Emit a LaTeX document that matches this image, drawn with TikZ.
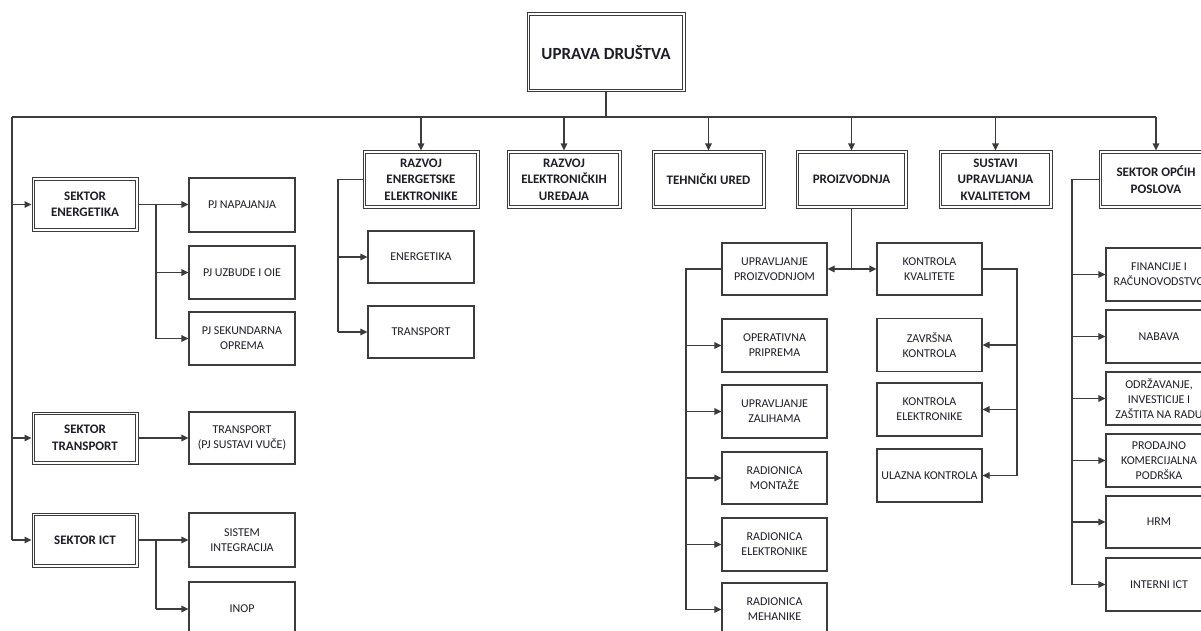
\documentclass[tikz,border=0pt]{standalone}
\usepackage{fontspec}
\setmainfont{Carlito}
\usetikzlibrary{arrows.meta}
\definecolor{lnc}{HTML}{3C3C3C}
\definecolor{txc}{HTML}{1E1E2A}
\tikzset{
  box/.style={draw=lnc, line width=1.1pt, fill=white, text=txc, font=\fontsize{12}{15}\selectfont, align=center, inner sep=0pt, minimum width=106pt, minimum height=53pt},
  dbox/.style={draw=lnc, line width=1pt, fill=white, text=txc, font=\fontsize{13}{16.5}\selectfont\bfseries, align=center, inner sep=0pt},
  inner/.style={draw=lnc, line width=1pt},
  arr/.style={draw=lnc, line width=1.1pt, -{Triangle[length=7pt,width=6.5pt]}},
  conn/.style={draw=lnc, line width=1.1pt},
}
\begin{document}
\begin{tikzpicture}[x=1pt,y=-1pt]
\useasboundingbox (0,0) rectangle (1201,631);
\fill[white] (0,0) rectangle (1201,631);
\clip (0,0) rectangle (1201,631);
% top
\node[dbox, font=\fontsize{17}{20}\selectfont\bfseries, minimum width=158pt, minimum height=79pt] (uprava) at (606,52.5) {UPRAVA DRUŠTVA};
% row 1
\node[dbox, minimum width=116pt, minimum height=57pt] (razee) at (421,179.5) {RAZVOJ\\ENERGETSKE\\ELEKTRONIKE};
\node[dbox, minimum width=114pt, minimum height=57pt] (razeu) at (564,179.5) {RAZVOJ\\ELEKTRONIČKIH\\UREĐAJA};
\node[dbox, minimum width=113pt, minimum height=57pt] (teh) at (708.5,179.5) {TEHNIČKI URED};
\node[dbox, minimum width=111pt, minimum height=57pt] (proiz) at (851.5,179.5) {PROIZVODNJA};
\node[dbox, minimum width=113pt, minimum height=57pt] (sust) at (995.5,179.5) {SUSTAVI\\UPRAVLJANJA\\KVALITETOM};
\node[dbox, minimum width=114pt, minimum height=57pt] (opci) at (1156,179.5) {SEKTOR OPĆIH\\POSLOVA};
% sectors
\node[dbox, minimum width=106pt, minimum height=53pt] (energ) at (85,204.5) {SEKTOR\\ENERGETIKA};
\node[dbox, minimum width=106pt, minimum height=52pt] (transp) at (85,438) {SEKTOR\\TRANSPORT};
\node[dbox, minimum width=106pt, minimum height=54pt] (ict) at (85,540) {SEKTOR ICT};
% inner frames of the double boxes
\foreach \n in {uprava,razee,razeu,teh,proiz,sust,opci,energ,transp,ict}
  \draw[inner] ([shift={(3.3,3.3)}]\n.north west) rectangle ([shift={(-3.3,-3.3)}]\n.south east);
% sector children
\node[box, minimum height=54pt] (napaj) at (242,205) {PJ NAPAJANJA};
\node[box] (uzb) at (242,272.5) {PJ UZBUDE I OIE};
\node[box] (sek) at (242,338.5) {PJ SEKUNDARNA\\OPREMA};
\node[box, minimum height=52pt] (trpj) at (242,438) {TRANSPORT\\(PJ SUSTAVI VUČE)};
\node[box, minimum height=54pt] (sistem) at (242,540) {SISTEM\\INTEGRACIJA};
\node[box, minimum height=54pt] (inop) at (242,609) {INOP};
% razvoj EE children
\node[box, minimum height=52pt] (energetika) at (421,257) {ENERGETIKA};
\node[box, minimum height=52pt] (transport) at (421,332) {TRANSPORT};
% proizvodnja
\node[box, minimum width=105pt, minimum height=52pt] (uprpro) at (774.5,269) {UPRAVLJANJE\\PROIZVODNJOM};
\node[box, minimum width=105pt, minimum height=52pt] (kk) at (929.5,269) {KONTROLA\\KVALITETE};
\node[box, minimum width=105pt] (oper) at (774.5,345.5) {OPERATIVNA\\PRIPREMA};
\node[box, minimum width=105pt] (zal) at (774.5,411.5) {UPRAVLJANJE\\ZALIHAMA};
\node[box, minimum width=105pt, minimum height=52pt] (mont) at (774.5,478) {RADIONICA\\MONTAŽE};
\node[box, minimum width=105pt] (elek) at (774.5,544.5) {RADIONICA\\ELEKTRONIKE};
\node[box, minimum width=105pt] (meh) at (774.5,609.5) {RADIONICA\\MEHANIKE};
\node[box, minimum width=105pt] (zav) at (929.5,345) {ZAVRŠNA\\KONTROLA};
\node[box, minimum width=105pt] (kel) at (929.5,409.5) {KONTROLA\\ELEKTRONIKE};
\node[box, minimum width=105pt] (ul) at (929.5,475.5) {ULAZNA KONTROLA};
% opci children
\node[box] (fin) at (1159,274.5) {FINANCIJE I\\RAČUNOVODSTVO};
\node[box] (nab) at (1159,336.5) {NABAVA};
\node[box] (odr) at (1159,398.5) {ODRŽAVANJE,\\INVESTICIJE I\\ZAŠTITA NA RADU};
\node[box] (prod) at (1159,460.5) {PRODAJNO\\KOMERCIJALNA\\PODRŠKA};
\node[box, minimum height=52pt] (hrm) at (1159,522) {HRM};
\node[box] (int) at (1159,584.5) {INTERNI ICT};
% coordinates
\coordinate (bus) at (606,117);
\coordinate (lc) at (12,117);
\coordinate (be) at (156,0);
\coordinate (bre) at (338,0);
\coordinate (bup) at (686,0);
\coordinate (bkk) at (1017,0);
\coordinate (bop) at (1072,0);
% main bus
\draw[conn] (uprava.south) -- (bus);
\draw[conn] (lc) -- (bus -| opci);
\draw[arr] (bus -| razee) -- (razee.north);
\draw[arr] (bus -| razeu) -- (razeu.north);
\draw[arr] (bus -| teh) -- (teh.north);
\draw[arr] (bus -| proiz) -- (proiz.north);
\draw[arr] (bus -| sust) -- (sust.north);
\draw[arr] (bus -| opci) -- (opci.north);
% left
\draw[conn] (lc) -- (lc |- ict);
\draw[arr] (lc |- energ) -- (energ.west);
\draw[arr] (lc |- transp) -- (transp.west);
\draw[arr] (lc |- ict) -- (ict.west);
% energetika
\draw[arr] (energ.east) -- (energ.east -| napaj.west);
\draw[conn] (be |- energ) -- (be |- sek);
\draw[arr] (be |- uzb) -- (uzb.west);
\draw[arr] (be |- sek) -- (sek.west);
% transport
\draw[arr] (transp.east) -- (trpj.west);
% ict
\draw[arr] (ict.east) -- (sistem.west);
\draw[conn] (be |- ict) -- (be |- inop);
\draw[arr] (be |- inop) -- (inop.west);
% razvoj EE
\draw[conn] (razee.west) -- (bre |- razee) -- (bre |- transport);
\draw[arr] (bre |- energetika) -- (energetika.west);
\draw[arr] (bre |- transport) -- (transport.west);
% proizvodnja
\draw[conn] (proiz.south) -- (proiz.south |- uprpro);
\draw[arr] (proiz.south |- uprpro) -- (uprpro.east);
\draw[arr] (proiz.south |- kk) -- (kk.west);
\draw[conn] (uprpro.west) -- (bup |- uprpro) -- (bup |- meh);
\draw[arr] (bup |- oper) -- (oper.west);
\draw[arr] (bup |- zal) -- (zal.west);
\draw[arr] (bup |- mont) -- (mont.west);
\draw[arr] (bup |- elek) -- (elek.west);
\draw[arr] (bup |- meh) -- (meh.west);
\draw[conn] (kk.east) -- (bkk |- kk) -- (bkk |- ul);
\draw[arr] (bkk |- zav) -- (zav.east);
\draw[arr] (bkk |- kel) -- (kel.east);
\draw[arr] (bkk |- ul) -- (ul.east);
% opci
\draw[conn] (opci.west) -- (bop |- opci) -- (bop |- int);
\draw[arr] (bop |- fin) -- (fin.west);
\draw[arr] (bop |- nab) -- (nab.west);
\draw[arr] (bop |- odr) -- (odr.west);
\draw[arr] (bop |- prod) -- (prod.west);
\draw[arr] (bop |- hrm) -- (hrm.west);
\draw[arr] (bop |- int) -- (int.west);
\end{tikzpicture}
\end{document}
